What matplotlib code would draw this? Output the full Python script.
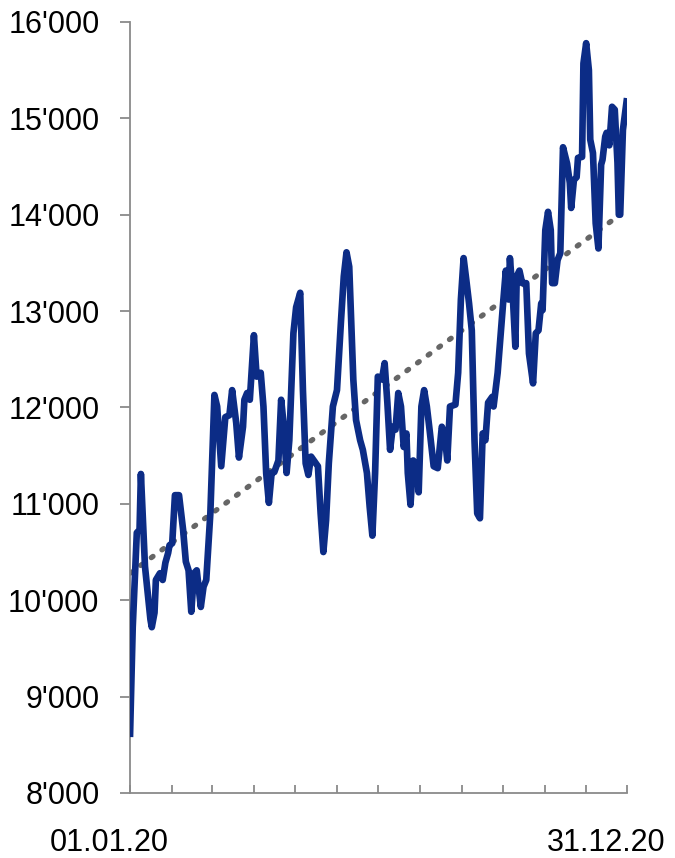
import numpy as np
import pandas as pd
import matplotlib
matplotlib.use("Agg")
import matplotlib.pyplot as plt
import matplotlib.transforms as mtransforms
from matplotlib.ticker import FuncFormatter

# Tage seit 01.01.2020 und Werte
days = [0, 2, 5, 7, 8, 11, 13, 15, 16, 18, 19, 22, 24, 26, 28, 29, 31, 33, 36, 39,
        41, 43, 45, 47, 49, 52, 54, 56, 59, 62, 64, 67, 70, 73, 75, 78, 80, 83, 84, 86,
        88, 91, 93, 96, 98, 100, 102, 104, 106, 109, 111, 113, 115, 117, 120, 122, 125, 127, 129, 131,
        133, 136, 138, 140, 142, 144, 146, 149, 152, 155, 157, 159, 161, 164, 166, 169, 171, 174, 176, 178,
        180, 182, 185, 187, 189, 191, 193, 195, 197, 199, 201, 203, 204, 206, 208, 211, 212, 214, 216, 218,
        220, 223, 226, 229, 231, 233, 235, 239, 241, 243, 245, 247, 249, 251, 253, 255, 257, 259, 261, 263,
        266, 267, 270, 274, 276, 278, 279, 281, 283, 284, 286, 288, 291, 293, 296, 298, 300, 302, 303, 305,
        307, 309, 310, 312, 314, 316, 318, 321, 323, 324, 326, 328, 329, 332, 333, 335, 337, 338, 340, 342,
        344, 346, 347, 349, 350, 352, 354, 356, 358, 359, 360, 362, 365]
values = [8580, 9720, 10700, 10730, 11310, 10350, 10080, 9800, 9720, 9870, 10210, 10280, 10210, 10390, 10490, 10570, 10590, 11090, 11090, 10730,
          10400, 10310, 9880, 10280, 10310, 9930, 10140, 10210, 10900, 12130, 12010, 11390, 11900, 11920, 12180, 11840, 11480, 11800, 12080, 12150,
          12080, 12750, 12320, 12360, 12010, 11320, 11010, 11320, 11330, 11450, 12080, 11800, 11320, 11660, 12770, 13040, 13190, 12180, 11420, 11300,
          11490, 11430, 11390, 10900, 10500, 10830, 11420, 12010, 12180, 12910, 13360, 13610, 13460, 12290, 11870, 11660, 11560, 11320, 10970, 10670,
          11320, 12320, 12290, 12460, 12050, 11560, 11800, 11770, 12150, 12010, 11590, 11730, 11320, 10990, 11450, 11320, 11120, 12010, 12180, 12010,
          11770, 11390, 11370, 11800, 11730, 11450, 12010, 12030, 12360, 13120, 13550, 13320, 13080, 12800, 11660, 10900, 10850, 11730, 11660, 12050,
          12110, 12010, 12360, 13080, 13420, 13120, 13550, 13190, 12630, 13360, 13420, 13290, 13290, 12560, 12250, 12770, 12800, 13080, 13010, 13840,
          14030, 13840, 13290, 13290, 13530, 13600, 14700, 14530, 14330, 14070, 14360, 14390, 14590, 14600, 15570, 15780, 15500, 14780, 14640, 13910,
          13650, 14520, 14570, 14810, 14850, 14720, 15120, 15090, 14540, 14000, 14000, 14880, 15210]

# Trendlinie (Anfang / Ende)
trend_days = [0, 356]
trend_values = [10280, 13960]

start = pd.Timestamp("2020-01-01")
end = pd.Timestamp("2020-12-31")
dates = start + pd.to_timedelta(days, unit="D")
trend_dates = start + pd.to_timedelta(trend_days, unit="D")

plt.rcParams["font.family"] = ["Liberation Sans", "DejaVu Sans"]

fig = plt.figure(figsize=(6.75, 8.58), dpi=100)
ax = fig.add_axes([0.1926, 0.0758, 0.7363, 0.8986])

ax.plot(trend_dates, trend_values, color="#666666", lw=3.8,
        linestyle=(0, (0.4, 2.1)), dash_capstyle="round", zorder=2)
ax.plot(dates, values, color="#0c2c86", lw=4.8, solid_joinstyle="round",
        solid_capstyle="butt", zorder=3)

ax.set_xlim(start, end)
ax.set_ylim(8000, 16000)
ax.set_yticks(np.arange(8000, 16001, 1000))
ax.yaxis.set_major_formatter(FuncFormatter(lambda v, p: f"{v:,.0f}".replace(",", "'")))

# Monatsstriche, beschriftet nur Anfang und Ende
xticks = list(pd.date_range(start, periods=12, freq="MS")) + [end]
ax.set_xticks(xticks)
labels = [""] * len(xticks)
labels[0] = start.strftime("%d.%m.%y")
labels[-1] = end.strftime("%d.%m.%y")
ax.set_xticklabels(labels)

for s in ["top", "right"]:
    ax.spines[s].set_visible(False)
for s in ["left", "bottom"]:
    ax.spines[s].set_color("#8a8a8a")
    ax.spines[s].set_linewidth(1.3)

ax.tick_params(axis="y", direction="out", length=7, width=1.3, color="#8a8a8a",
               labelsize=22, pad=15)
ax.tick_params(axis="x", direction="in", length=6, width=1.3, color="#8a8a8a",
               labelsize=22, pad=25)

shift = mtransforms.ScaledTranslation(-21 / 100, 0, fig.dpi_scale_trans)
for lab in ax.get_xticklabels():
    lab.set_transform(lab.get_transform() + shift)

fig.savefig("out.png", dpi=100)
